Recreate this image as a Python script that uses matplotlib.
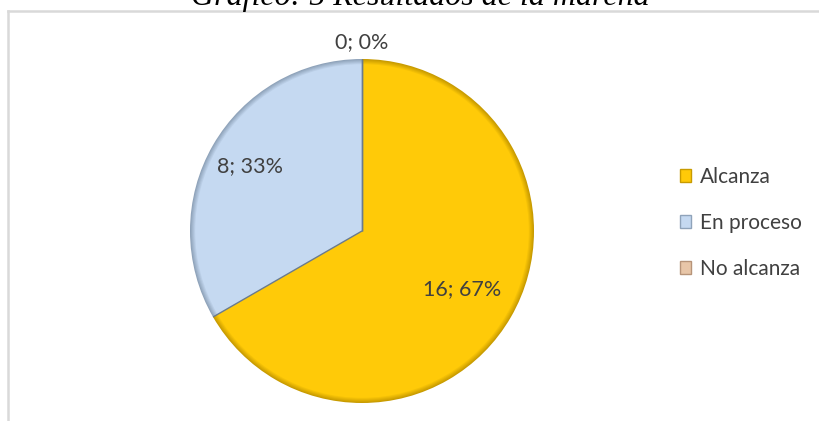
import matplotlib
matplotlib.use("Agg")
import matplotlib.pyplot as plt
from matplotlib.patches import Patch
import matplotlib.colors as mcolors
import numpy as np

categories = ["Alcanza", "En proceso", "No alcanza"]
values = [16, 8, 0]
colors = ["#FFCA08", "#C5D9F1", "#E8C6A8"]
edge_colors = ["#C89B00", "#8FA3BA", "#B79479"]
label_dist = [0.67, 0.75, 1.10]
title = "Gráfico: 5 Resultados de la marcha"

W, H = 820, 421
fig = plt.figure(figsize=(W / 100, H / 100), dpi=100)
fig.patch.set_facecolor("white")

# chart frame (top and left borders visible)
fig.add_artist(plt.Line2D([8 / W, 1], [1 - 11 / H, 1 - 11 / H], color="#D9D9D9", lw=1.8))
fig.add_artist(plt.Line2D([8 / W, 8 / W], [1 - 11 / H, 0], color="#D9D9D9", lw=1.8))

fig.text(420 / W, 1 - 5 / H, title, ha="center", va="baseline",
         fontsize=23, family="Liberation Serif", style="italic", color="#000000")

cx, cy, r = 362, 231, 172
ax = fig.add_axes([(cx - r) / W, (H - cy - r) / H, 2 * r / W, 2 * r / H])

# bevel: rings blending from edge colour to face colour
n_rings = 6
for i in range(n_rings):
    t = i / (n_rings - 1)
    ring_cols = [tuple(np.array(mcolors.to_rgb(e)) * (1 - t) + np.array(mcolors.to_rgb(c)) * t)
                 for e, c in zip(edge_colors, colors)]
    ax.pie(values, colors=ring_cols, startangle=90, counterclock=False,
           radius=1.0 - 0.006 * i, wedgeprops=dict(linewidth=0))

total = sum(values)
ang = 90.0
for v in values:
    a = np.deg2rad(ang)
    ax.plot([0, np.cos(a)], [0, np.sin(a)], color="#6B7B8C", lw=1.0, solid_capstyle="butt")
    ang -= 360.0 * v / total

ang = 90.0
for v, d in zip(values, label_dist):
    span = 360.0 * v / total
    mid = np.deg2rad(ang - span / 2)
    ax.text(d * np.cos(mid), d * np.sin(mid), f"{v}; {round(100 * v / total)}%",
            ha="center", va="center", fontsize=15.5, family="Lato", color="#404040",
            clip_on=False)
    ang -= span

ax.set_xlim(-1, 1)
ax.set_ylim(-1, 1)
ax.set_aspect("equal")
ax.axis("off")

handles = [Patch(facecolor=c, edgecolor=e, linewidth=1.0) for c, e in zip(colors, edge_colors)]
leg = fig.legend(handles, categories, loc="center left", bbox_to_anchor=(680 / W, 1 - 223 / H),
                 frameon=False, prop=dict(family="Lato", size=15), labelcolor="#404040",
                 handlelength=0.55, handleheight=0.55, handletextpad=0.4, labelspacing=1.25,
                 borderpad=0, borderaxespad=0)

fig.savefig("out.png", dpi=100, facecolor="white")
